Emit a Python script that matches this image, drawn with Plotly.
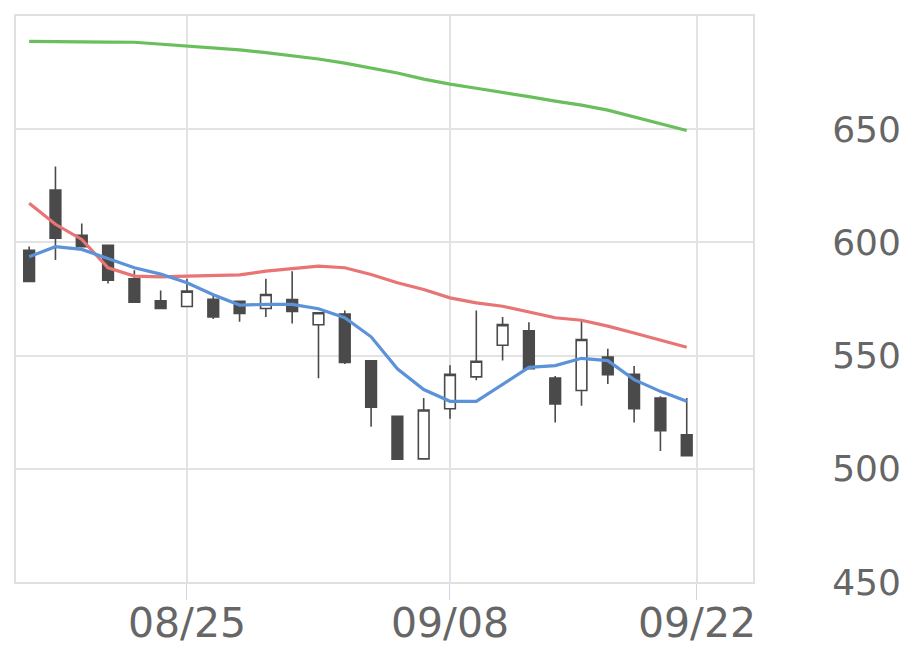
import plotly.graph_objects as go

dates = ["08/15", "08/18", "08/19", "08/20", "08/21", "08/22", "08/25", "08/26", "08/27",
         "08/28", "08/29", "09/01", "09/02", "09/03", "09/04", "09/05", "09/08", "09/09",
         "09/10", "09/11", "09/12", "09/15", "09/16", "09/17", "09/18", "09/19"]

opens = [596.5, 623.1, 603.1, 598.7, 583.9, 574.2, 571.7, 574.9, 574.0, 570.8, 574.8, 563.6, 568.4,
         547.7, 523.2, 504.4, 526.5, 540.6, 554.6, 560.9, 540.1, 534.6, 549.4, 541.7, 531.3, 515.0]
highs = [598.2, 633.5, 608.3, 598.9, 587.7, 578.8, 583.9, 577.0, 574.0, 583.9, 587.3, 568.9, 569.9,
         547.7, 523.2, 531.3, 545.7, 569.9, 567.0, 564.7, 541.0, 565.6, 553.0, 545.4, 532.0, 531.3]
lows = [582.7, 592.2, 598.0, 581.9, 573.6, 570.8, 571.7, 566.2, 564.9, 567.0, 564.2, 540.0, 546.3,
        518.6, 504.2, 504.4, 522.1, 539.1, 547.8, 544.2, 520.5, 527.9, 537.5, 520.5, 507.9, 505.8]
closes = [582.7, 601.8, 598.1, 583.3, 573.6, 570.8, 578.5, 567.1, 568.6, 577.0, 569.5, 568.9, 547.0,
          527.2, 504.2, 526.0, 541.7, 547.5, 563.7, 544.2, 528.6, 557.1, 541.6, 526.5, 516.8, 505.8]

ma_short = [593.7, 598.1, 596.9, 592.9, 588.8, 586.0, 582.2, 576.9, 572.3, 572.6, 572.6, 570.7, 566.7,
            558.3, 544.2, 535.0, 529.8, 529.8, 537.2, 544.8, 545.6, 548.8, 547.8, 539.4, 534.2, 529.8]
ma_mid = [617.3, 608.0, 601.3, 588.8, 585.1, 584.8, 585.1, 585.4, 585.7, 587.3, 588.4, 589.5, 588.8,
          585.8, 582.2, 579.2, 575.5, 573.3, 571.8, 569.3, 566.7, 565.6, 563.0, 560.0, 556.8, 553.7]
ma_long = [688.8, 688.8, 688.7, 688.5, 688.4, 687.6, 686.9, 685.8, 685.0, 683.8, 682.5, 681.0, 679.2,
           677.0, 674.8, 672.1, 669.9, 668.1, 666.4, 664.4, 662.4, 660.6, 658.4, 655.3, 652.4, 649.4]

tick_labels = ["08/25", "09/08", "09/22"]
y_ticks = [450, 500, 550, 600, 650]

x = list(range(len(dates)))

fig = go.Figure()
fig.add_trace(go.Candlestick(
    x=x, open=opens, high=highs, low=lows, close=closes, text=dates,
    increasing=dict(fillcolor="#ffffff", line=dict(color="#4a4a4a", width=1.6)),
    decreasing=dict(fillcolor="#4a4a4a", line=dict(color="#4a4a4a", width=1.6)),
    whiskerwidth=0, showlegend=False,
))
for vals, col in [(ma_long, "#6abf5d"), (ma_mid, "#e87474"), (ma_short, "#5b92d9")]:
    fig.add_trace(go.Scatter(x=x, y=vals, mode="lines", line=dict(color=col, width=3.2),
                             showlegend=False))

yfont = dict(family="DejaVu Sans", size=36, color="#666666")
xfont = dict(family="DejaVu Sans", size=41, color="#666666")
fig.update_layout(
    width=912, height=661,
    margin=dict(l=8, r=167, t=8, b=87, autoexpand=False),
    paper_bgcolor="#ffffff", plot_bgcolor="#ffffff",
    boxgap=0.42,
    xaxis=dict(
        range=[-0.5, 27.52], tickmode="array", tickvals=[6, 16, 25.39], ticktext=tick_labels,
        showgrid=True, gridcolor="#e3e3e3", gridwidth=1.5, zeroline=False,
        ticks="outside", ticklen=16, tickcolor="#ccd6eb", tickwidth=1,
        showline=True, linecolor="#e0e0e0", linewidth=2, mirror=True,
        tickfont=xfont, rangeslider=dict(visible=False), automargin=False,
        ticklabelstandoff=-12,
    ),
    yaxis=dict(
        side="right", range=[450, 700], tickmode="array", tickvals=y_ticks,
        showgrid=True, gridcolor="#e3e3e3", gridwidth=1.5, zeroline=False,
        showline=True, linecolor="#e0e0e0", linewidth=2, mirror=True,
        ticks="", ticklabelstandoff=70, tickfont=yfont, automargin=False,
    ),
)
fig.write_html("out.html")
